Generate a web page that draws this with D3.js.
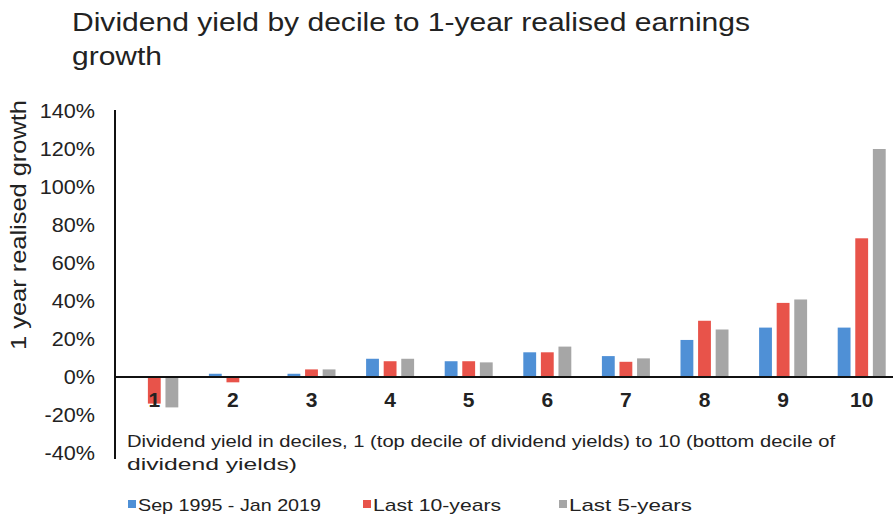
<!DOCTYPE html>
<html><head><meta charset="utf-8">
<script src="https://cdn.jsdelivr.net/npm/d3@7"></script>
<style>body{margin:0;background:#fff}svg{display:block;font-family:"Liberation Sans",Arial,sans-serif}</style>
</head><body>
<svg id="c" width="893" height="519"></svg>
<script>
const categories = ["1","2","3","4","5","6","7","8","9","10"];
const seriesNames = ["Sep 1995 - Jan 2019","Last 10-years","Last 5-years"];
const fullPeriod = [0, 1.7, 1.7, 9.6, 8.3, 13, 11, 19.5, 26, 26];
const last10 = [-14, -2.8, 4, 8.3, 8.3, 13, 8, 29.6, 39, 73];
const last5 = [-16, 0, 4, 9.6, 7.7, 16, 9.8, 25, 40.8, 120];
const yTicks = [140,120,100,80,60,40,20,0,-20,-40];
const colors = ["#4f90d6","#e8534a","#a6a6a6"];
const series = [fullPeriod, last10, last5];

const svg = d3.select("#c");
const x = d3.scaleBand().domain(categories).range([115, 901]);
const xs = d3.scaleBand().domain([0,1,2]).range([-24, 24]).paddingInner(0.27);
const y = d3.scaleLinear().domain([-40, 140]).range([453, 111]);

// title
const title = svg.append("text").attr("x",72).attr("fill","#222").style("font-size","25px");
title.append("tspan").attr("x",72).attr("y",31).attr("textLength",678).attr("lengthAdjust","spacingAndGlyphs")
  .text("Dividend yield by decile to 1-year realised earnings");
title.append("tspan").attr("x",72).attr("y",65).attr("textLength",90).attr("lengthAdjust","spacingAndGlyphs").text("growth");

// y axis label
svg.append("text").attr("transform",`translate(26,${y(80)}) rotate(-90)`)
  .attr("text-anchor","middle").attr("fill","#222").style("font-size","22px")
  .attr("textLength",250).attr("lengthAdjust","spacingAndGlyphs")
  .text("1 year realised growth");

// y tick labels
const yAxis = d3.axisLeft(y).tickValues(yTicks).tickFormat(d=>d+"%").tickSize(0).tickPadding(20);
const gy = svg.append("g").attr("transform","translate(115,0)").call(yAxis);
gy.select(".domain").remove();
gy.selectAll("text").attr("fill","#222").style("font-size","20px").style("font-family","'Liberation Sans',Arial,sans-serif")
  .each(function(){ const w=this.getComputedTextLength(); d3.select(this).attr("textLength",w*1.08).attr("lengthAdjust","spacingAndGlyphs"); });

// bars
series.forEach((vals,si)=>{
  svg.append("g").selectAll("rect").data(vals).join("rect")
    .attr("x",(d,i)=>x(categories[i])+x.bandwidth()/2+xs(si))
    .attr("width",xs.bandwidth())
    .attr("y",d=>y(Math.max(0,d)))
    .attr("height",d=>Math.abs(y(d)-y(0)))
    .attr("fill",colors[si]);
});

// axes lines
svg.append("line").attr("x1",115).attr("x2",115).attr("y1",y(140)-1).attr("y2",459).attr("stroke","#111").attr("stroke-width",2);
svg.append("line").attr("x1",115).attr("x2",893).attr("y1",y(0)).attr("y2",y(0)).attr("stroke","#111").attr("stroke-width",2);

// category labels
const xAxis = d3.axisBottom(x).tickSize(0).tickPadding(0);
const gx = svg.append("g").attr("transform",`translate(0,${y(0)+15})`).call(xAxis);
gx.select(".domain").remove();
gx.selectAll("text").attr("fill","#222").style("font-size","21px").style("font-weight","bold").style("font-family","'Liberation Sans',Arial,sans-serif");

// x axis title
const xt = svg.append("text").attr("fill","#222").style("font-size","16px");
xt.append("tspan").attr("x",127).attr("y",447).attr("textLength",708).attr("lengthAdjust","spacingAndGlyphs")
  .text("Dividend yield in deciles, 1 (top decile of dividend yields) to 10 (bottom decile of");
xt.append("tspan").attr("x",127).attr("y",470).attr("textLength",170).attr("lengthAdjust","spacingAndGlyphs")
  .text("dividend yields)");

// legend
const legX = [128, 363, 559];
const legW = [183, 128, 123];
seriesNames.forEach((n,i)=>{
  svg.append("rect").attr("x",legX[i]).attr("y",500).attr("width",8).attr("height",8).attr("fill",colors[i]);
  svg.append("text").attr("x",legX[i]+10).attr("y",511).attr("fill","#222").style("font-size","17px")
    .attr("textLength",legW[i]).attr("lengthAdjust","spacingAndGlyphs").text(n);
});
</script>
</body></html>
